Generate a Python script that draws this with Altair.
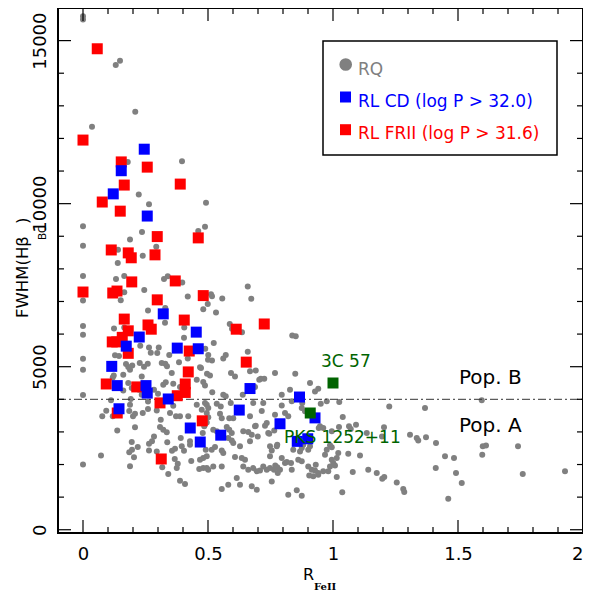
import altair as alt
import pandas as pd

# ---------------- data ----------------
rq_x = [0, 0, 0.131, 0.148, 0.209, 0.036, 0.179, 0.396, 0.223, 0.264, 0.492,
        0, 0.236, 0.461, 0.488, 0, 0.188, 0.293, 0.14, 0.139, 0.239,
        0, 0.132, 0.165, 0.324, 0.339, 0.397, 0.659,
        0.165, 0.245, 0.419, 0.512, 0.516, 0.557, 0.673, 0, 0.151,
        0.499, 0.481, 0.532, 0.587, 0.596, 0.636,
        0.837, 0.851, 0.523, 0.489, 0.501, 0.516, 0.561, 0.571, 0.659,
        0.468, 0.508, 0.592, 0.608, 0.668, 0.691, 0.711, 0.725, 0.849,
        0.26, 0.329, 0.328, 0, 0, 0.124, 0.165, 0.405, 0.404,
        0.229, 0.264, 0.303, 0.271, 0.297, 0.345, 0.128, 0.144,
        0, 0, 0.172, 0.181, 0.188, 0.197, 0.227, 0.244, 0.259,
        0.315, 0.329, 0.336, 0.384, 0.419, 0.472, 0.5, 0.496, 0.123,
        0, 0, 0.072, 0.093, 0.077, 0.119, 0.119, 0.112, 0.137,
        0.161, 0.181, 0.191, 0.188, 0.185, 0.208, 0.2, 0.239, 0.26, 0.235,
        0.208, 0.195, 0.219, 0.185, 0.196, 0.204, 0.188,
        0.264, 0.276, 0.284, 0.264, 0.295,
        0.311, 0.308, 0.321, 0.335, 0.337, 0.356, 0.368, 0.367,
        0.379, 0.375, 0.341, 0.388, 0.408, 0.317, 0.395, 0.404,
        0.391, 0.428, 0.428, 0.433, 0.465, 0.495, 0.479, 0.491,
        0.348, 0.372, 0.388, 0.421, 0.348, 0.361, 0.295,
        0.321, 0.331, 0.361, 0.355, 0.388, 0.455, 0.488,
        0.475, 0.455, 0.495, 0.26, 0.284, 0.3, 0.224, 0.235,
        0.161, 0.195,
        0.481, 0.561, 0.571, 0.517, 0.639, 0.688, 0.705, 0.768,
        0.488, 0.501, 0.535, 0.551, 0.591, 0.681, 0.721, 0.795, 0.835,
        0.768, 0.715, 0.668, 0.585, 0.601, 0.548, 0.555, 0.495, 0.501,
        0.495, 0.485, 0.521, 0.535, 0.575, 0.585, 0.595,
        0.641, 0.661, 0.675, 0.688, 0.735, 0.741, 0.775, 0.748, 0.755,
        0.581, 0.595, 0.601, 0.628, 0.668, 0.515, 0.528,
        0.468, 0.481, 0.495, 0.555, 0.561, 0.608,
        0.521, 0.481, 0.501, 0.555,
        0.681, 0.695, 0.708, 0.721, 0.735, 0.748, 0.764, 0.777, 0.788,
        0.635, 0.648, 0.795, 0.808, 0.835,
        0.868, 0.875, 0.881, 0.861, 0.875,
        0.901, 0.915, 0.928, 0.941, 0.921, 0.905,
        0.968, 0.975, 0.988, 0.981, 1.015, 1.021,
        0.961, 0.995, 0.841,
        0.615, 0.628, 0.581, 0.675, 0.695, 0.755,
        0.821, 0.855, 0.875, 0.555,
        0.795, 0.828, 0.808, 0.821, 0.875, 0.888, 0.948, 0.975,
        0.928, 0.908,
        0.691, 0.728, 0.765, 0.699, 0.745, 0.777,
        0.748, 0.769, 0.779, 0.815, 0.832, 0.641, 0.661,
        0.941, 0.951, 1.025, 0.877, 1.225, 1.368, 1.595,
        1.039, 0.943, 1.024, 1.064, 1.071, 1.092, 1.135, 1.204, 1.196,
        1.308, 1.335, 1.341, 1.372, 1.412, 1.599, 1.612, 1.597,
        1.74, 1.448, 1.484, 1.411, 1.492, 1.515, 1.461, 1.759, 1.928,
        1.285, 1.281, 1.255, 1.205, 1.197, 1.175, 1.141, 1.079,
        1.037, 1.015, 0.995, 1.001, 1.008,
        0.988, 0.995, 1.061, 1.108, 0.931, 0.961, 0.941, 0.908, 0.901]
rq_y = [15750, 15650, 14250, 14380, 12820, 12360, 11280, 11300, 10280, 9980, 10030,
        9310, 9130, 9160, 9290, 8710, 8900, 8680, 8590, 8180, 8400,
        7780, 7690, 7780, 7690, 7770, 7580, 7460,
        7280, 7350, 7150, 7220, 7160, 7090, 7080, 7030, 7040,
        6920, 6760, 6660, 6310, 6160, 6060,
        5960, 5930, 5730, 5550, 5360, 5190, 5250, 5360, 5460,
        4980, 4730, 4810, 4700, 4860, 4880, 4630, 4630, 4780,
        6720, 6800, 6350, 6250, 5980, 6170, 6200, 6200, 5890,
        5640, 5590, 5590, 5430, 5420, 5360, 5350, 5330,
        5240, 4910, 5080, 4990, 4910, 5040, 5110, 5000, 5090,
        5110, 5090, 5010, 5140, 5250, 4960, 5210, 4780, 4730,
        4130, 2000, 2280, 3650, 3480, 3480, 4670, 3970, 3040,
        4750, 4500, 4010, 3830, 3640, 3560, 3480, 3580, 3700, 4700,
        3140, 2690, 2540, 2380, 2450, 2220, 1950,
        2640, 2710, 2860, 2430, 2400,
        3370, 3150, 3070, 2990, 2680, 2420, 2480, 2170,
        2020, 1890, 1710, 1500, 1400, 1920, 2560, 2420,
        2810, 2710, 2610, 2110, 1860, 1890, 2970, 2450,
        3580, 3480, 3480, 3480, 3940, 3800, 3660,
        4450, 4520, 4480, 4810, 4380, 4600, 4420,
        3680, 3830, 3830, 3930, 4290, 4170, 4290, 4140,
        4270, 4350,
        4530, 4140, 4090, 4220, 4140, 4380, 4600, 4810,
        3890, 3730, 3860, 3780, 3890, 3890, 3890, 3810, 3940,
        3530, 3640, 3480, 3420, 3420, 3560, 3420, 3580, 3450,
        3290, 3170, 3070, 3020, 3150, 3070, 2970,
        3020, 3000, 2910, 3170, 3270, 2970, 2560, 2560, 2430,
        2810, 2740, 2660, 2560, 2710, 2450, 2540,
        2150, 2200, 2250, 2430, 2350, 2230,
        1940, 1890, 1840, 1940,
        1890, 1790, 1820, 1940, 1840, 1890, 1840, 1920, 1840,
        2200, 2150, 2200, 2050, 1840,
        2400, 2510, 2610, 2150, 2100,
        1940, 1840, 1820, 1690, 1640, 1660,
        2300, 2450, 1940, 1790, 2200, 2350,
        3120, 3020, 2450,
        1590, 1380, 1380, 1330, 1230, 1480,
        1070, 1210, 1040, 1250,
        4140, 4290, 3580, 3480, 3730, 3630, 3170, 3940,
        4240, 4500,
        3190, 3190, 3040, 2860, 2940, 2610,
        2250, 1970, 1740, 2080, 2050, 1940, 1840,
        4320, 3860, 3920, 3890, 3780, 3730, 3970,
        3460, 3120, 3150, 3170, 3090, 3220, 2970, 3140, 2860,
        2910, 2810, 2740, 2840, 2660, 2560, 2580, 2300,
        2560, 2250, 2200, 1890, 1740, 1430, 950, 1710, 1790,
        1160, 1250, 1450, 1620, 1560, 1740, 1840, 1770,
        1150, 1620, 2150, 2050, 1970,
        2590, 2530, 2330, 2280, 1990, 1790, 1740, 2560, 2450]

cd_x = [0.245, 0.153, 0.121, 0.257, 0.321, 0.225, 0.173, 0.453, 0.377, 0.461,
        0.115, 0.137, 0.252, 0.257, 0.341, 0.144, 0.429, 0.469, 0.668, 0.625,
        0.551, 0.788, 0.866, 0.928, 0.857, 0.899]
cd_y = [11670, 11010, 10300, 9620, 6620, 5910, 5630, 6060, 5570, 5550,
        5010, 4420, 4420, 4190, 4010, 3710, 3120, 2690, 4330, 3670,
        2900, 3250, 4070, 3430, 2710, 2790]

fr_x = [0.057, 0.0, 0.153, 0.257, 0.165, 0.389, 0.077, 0.149, 0.297, 0.461,
        0.113, 0.181, 0.193, 0.288, 0.195, 0.369, 0.0, 0.119, 0.136, 0.297,
        0.481, 0.165, 0.26, 0.273, 0.405, 0.181, 0.157, 0.117, 0.135, 0.181,
        0.425, 0.421, 0.613, 0.725, 0.653, 0.093, 0.215, 0.409, 0.409, 0.377,
        0.308, 0.137, 0.477, 0.313]
fr_y = [14750, 11950, 11280, 11120, 10570, 10600, 10050, 9770, 8990, 8950,
        8580, 8490, 8340, 8430, 7600, 7630, 7290, 7260, 7320, 7050,
        7180, 6460, 6280, 6150, 6430, 6100, 5900, 5760, 5760, 5410,
        5480, 4840, 6150, 6310, 5140, 4470, 4380, 4470, 4210, 4110,
        3890, 3580, 3340, 2170]

sp_x = [1.0, 0.909]
sp_y = [4500, 3580]

note_text = ["3C 57", "PKS 1252+11", "Pop. B", "Pop. A"]
note_x = [0.952, 0.804, 1.504, 1.504]
note_y = [4980, 2660, 4480, 2985]
note_color = ["#006400", "#006400", "black", "black"]
note_size = [17, 17, 20, 20]

pop_split = [4000]

x_major = [0, 0.5, 1, 1.5, 2]
x_minor = [0.1, 0.2, 0.3, 0.4, 0.6, 0.7, 0.8, 0.9, 1.1, 1.2, 1.3, 1.4,
           1.6, 1.7, 1.8, 1.9]
y_major = [0, 5000, 10000, 15000]
y_minor = [1000, 2000, 3000, 4000, 6000, 7000, 8000, 9000, 11000, 12000,
           13000, 14000]

legend_labels = ["RQ", "RL CD (log P > 32.0)", "RL FRII (log P > 31.6)"]
legend_colors = ["#808080", "#0000ff", "#ff0000"]

# ---------------- chart ----------------
W, H = 525, 525
FONT = "DejaVu Sans"
xs = alt.Scale(domain=[-0.1, 2.0], nice=False, zero=False)
ys = alt.Scale(domain=[-100, 16000], nice=False, zero=False)

x_axis = alt.Axis(values=x_major, format="~g", ticks=False, tickSize=0,
                  domain=False, grid=False, labelFont=FONT,
                  labelFontSize=18, labelColor="black",
                  labelBaseline="alphabetic", labelPadding=26)
y_axis = alt.Axis(values=y_major, format="d", ticks=False, tickSize=0,
                  domain=False, grid=False, labelFont=FONT,
                  labelFontSize=18, labelColor="black", labelAngle=270,
                  labelAlign="center", labelBaseline="alphabetic",
                  labelPadding=13)

def X(f="x"):
    return alt.X(f + ":Q", scale=xs, title=None, axis=x_axis)

def Y(f="y"):
    return alt.Y(f + ":Q", scale=ys, title=None, axis=y_axis)

rq = pd.DataFrame({"x": rq_x, "y": rq_y})
cd = pd.DataFrame({"x": cd_x, "y": cd_y})
fr = pd.DataFrame({"x": fr_x, "y": fr_y})
sp = pd.DataFrame({"x": sp_x, "y": sp_y})
notes = pd.DataFrame({"x": note_x, "y": note_y, "t": note_text,
                      "c": note_color, "s": note_size})

base = alt.Chart(rq).mark_point(filled=True, shape="circle", size=36,
                                color="#808080", opacity=1).encode(x=X(), y=Y())

split = alt.Chart(pd.DataFrame({"y": pop_split})).mark_rule(
    color="#333333", strokeWidth=1, strokeDash=[8, 3, 2, 3]).encode(
    y=Y(), x=alt.value(0), x2=alt.value(W))

sq = dict(filled=True, shape="square", size=121, opacity=1)
fr_l = alt.Chart(fr).mark_point(color="#ff0000", **sq).encode(x=X(), y=Y())
cd_l = alt.Chart(cd).mark_point(color="#0000ff", **sq).encode(x=X(), y=Y())
sp_l = alt.Chart(sp).mark_point(color="#006400", **sq).encode(x=X(), y=Y())

note_l = alt.Chart(notes).mark_text(font=FONT, align="left",
                                    baseline="alphabetic").encode(
    x=X(), y=Y(), text="t:N",
    color=alt.Color("c:N", scale=None),
    size=alt.Size("s:Q", scale=None))

def tick_rules(vals, axis, length):
    d = pd.DataFrame({"v": vals})
    m = alt.Chart(d).mark_rule(color="black", strokeWidth=1.2)
    if axis == "x":
        xe = X("v")
        return [m.encode(x=xe, y=alt.value(H), y2=alt.value(H - length)),
                m.encode(x=xe, y=alt.value(0), y2=alt.value(length))]
    ye = Y("v")
    return [m.encode(y=ye, x=alt.value(0), x2=alt.value(length)),
            m.encode(y=ye, x=alt.value(W), x2=alt.value(W - length))]

ticks = (tick_rules(x_major, "x", 13) + tick_rules(x_minor, "x", 6) +
         tick_rules(y_major, "y", 13) + tick_rules(y_minor, "y", 6))

# legend (drawn by hand, like the original boxed key)
leg = pd.DataFrame({"t": legend_labels, "c": legend_colors})
leg_box = alt.Chart(pd.DataFrame({"a": [1]})).mark_rect(
    fill=None, fillOpacity=0, stroke="black", strokeWidth=1.5).encode(
    x=alt.value(265), x2=alt.value(499), y=alt.value(33), y2=alt.value(147))
leg_rq = alt.Chart(leg.iloc[[0]]).mark_point(
    filled=True, shape="circle", size=160, color="#808080", opacity=1).encode(
    x=alt.value(287.7), y=alt.value(56.5))
leg_cd = alt.Chart(leg.iloc[[1]]).mark_point(color="#0000ff", **sq).encode(
    x=alt.value(287.5), y=alt.value(89))
leg_fr = alt.Chart(leg.iloc[[2]]).mark_point(color="#ff0000", **sq).encode(
    x=alt.value(287.5), y=alt.value(121.7))
leg_txt = [
    alt.Chart(leg.iloc[[i]]).mark_text(font=FONT, fontSize=17, align="left",
                                       baseline="alphabetic",
                                       color=legend_colors[i]).encode(
        x=alt.value(300), y=alt.value(yy), text="t:N")
    for i, yy in zip(range(3), [67, 99.3, 131.3])
]

# axis titles with subscripts
def txt(s, x, y, size, angle=0, font=FONT, weight="normal", color="black"):
    kw = dict(font=font, fontSize=size, align="left", baseline="alphabetic",
              color=color, fontWeight=weight)
    if angle:
        kw["angle"] = angle
    return alt.Chart(pd.DataFrame({"t": [s]})).mark_text(**kw).encode(
        x=alt.value(x), y=alt.value(y), text="t:N")

titles = [
    txt("FWHM(H\u03b2", -30, 310, 16.5, angle=270),
    txt("BC", -12, 232, 10.5, angle=270),
    txt(")", -30, 216, 16.5, angle=270),
    txt("R", 245, 572, 16),
    txt("FeII", 256, 582, 10, font="DejaVu Serif", weight="bold"),
]

chart = alt.layer(
    base, split, fr_l, cd_l, sp_l, note_l, *ticks,
    leg_box, leg_rq, leg_cd, leg_fr, *leg_txt, *titles
).properties(
    width=W, height=H,
    autosize=alt.AutoSizeParams(type="none"),
    padding={"left": 50, "top": 0, "right": 0, "bottom": 60},
).configure_view(stroke="black", strokeWidth=2)

chart.save("out.html", embed_options={"renderer": "svg", "actions": False})
